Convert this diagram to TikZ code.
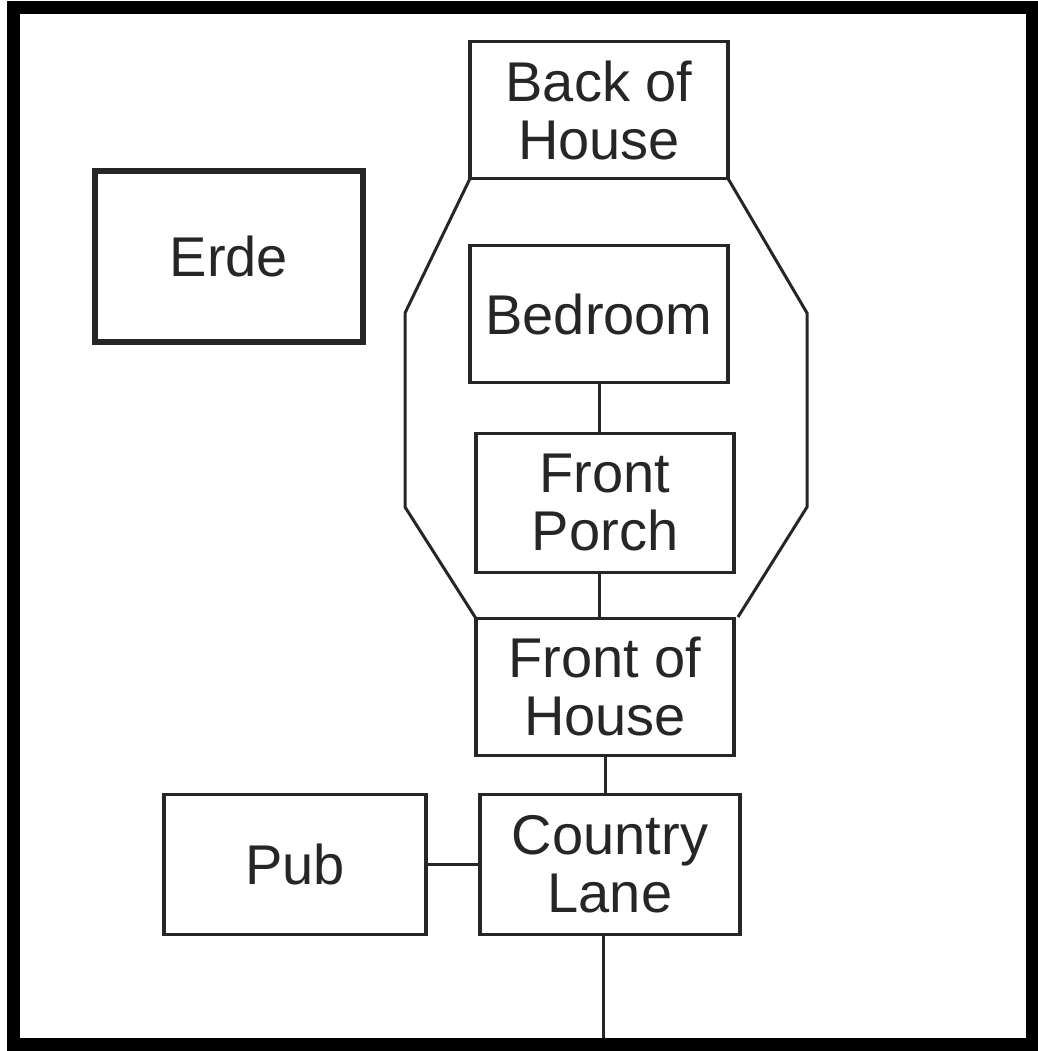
\documentclass[tikz,border=0pt]{standalone}
\usepackage{fontspec}
\setmainfont{Liberation Sans}
\usetikzlibrary{positioning}

\begin{document}
\begin{tikzpicture}[
    x=1pt, y=-1pt,
    room/.style={rectangle, draw=black!85, line width=3.5pt, outer sep=0pt, minimum width=258pt, minimum height=137pt, inner sep=0pt, align=center, text=black!85, font=\fontsize{56}{58}\selectfont},
    link/.style={draw=black!85, line width=3pt},
    mapframe/.style={draw=black, line width=13pt}
]

    \useasboundingbox (0,0) rectangle (1037,1051);
    \draw[mapframe] (13,7.5) rectangle (1032.5,1044.5);

    \node[room] (back) at (599,110) {Back of\\House};
    \node[room, below=67pt of back] (bed) {Bedroom};
    \node[room, below=51pt of bed, xshift=6pt, minimum height=139pt] (porch) {Front\\Porch};
    \node[room, below=46pt of porch] (front) {Front of\\House};
    \node[room, below=39pt of front, xshift=5pt, minimum width=260pt, minimum height=140pt] (lane) {Country\\Lane};
    \node[room, left=54pt of lane, minimum width=262pt, minimum height=140pt] (pub) {Pub};
    \node[room, line width=6pt, minimum width=268pt, minimum height=171pt] (erde) at (229,256.5) {Erde};

    % house outline
    \coordinate (nw) at (405,313);
    \coordinate (sw) at (405,507);
    \coordinate (ne) at (807,313);
    \coordinate (se) at (807,507);
    \coordinate (fr) at (738,617);
    \coordinate (lanend) at (603,1038);

    \draw[link] (back.south west) -- (nw) -- (sw) -- (front.north west);
    \draw[link] (back.south east) -- (ne) -- (se) -- (fr);

    \draw[link] (bed.south) -- (bed.south |- porch.north);
    \draw[link] (porch.south -| bed.south) -- (front.north -| bed.south);
    \draw[link] (front.south) -- (front.south |- lane.north);
    \draw[link] (pub) -- (lane);
    \draw[link] (lane.south -| lanend) -- (lanend);

\end{tikzpicture}
\end{document}
